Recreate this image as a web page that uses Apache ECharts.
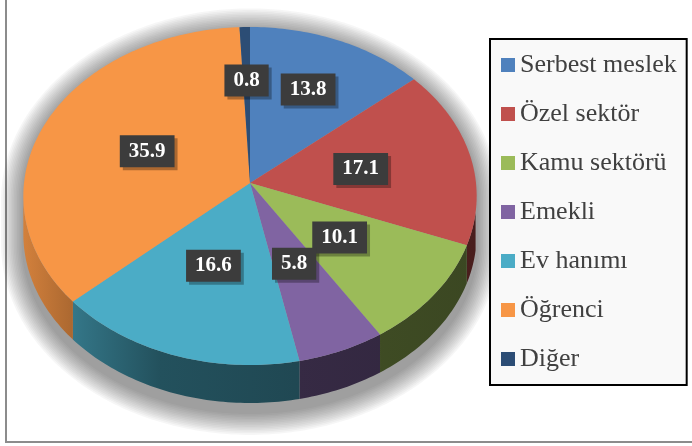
<!DOCTYPE html>
<html>
<head>
<meta charset="utf-8">
<script src="https://cdn.jsdelivr.net/npm/echarts@6/dist/echarts.min.js"></script>
<style>
  html, body { margin: 0; padding: 0; background: #fff; }
  #frame {
    position: absolute; left: 5px; top: 0; width: 685px; height: 441px;
    border-left: 2px solid #8c8c8c; border-bottom: 2px solid #8c8c8c;
  }
  #chart { position: absolute; left: 0; top: 0; width: 692px; height: 446px; }
</style>
</head>
<body>
<div id="frame"></div>
<div id="chart"></div>
<script>
// meslek dağılımı (%)
const categories = ['Serbest meslek', 'Özel sektör', 'Kamu sektörü', 'Emekli', 'Ev hanımı', 'Öğrenci', 'Diğer'];
const values = [13.8, 17.1, 10.1, 5.8, 16.6, 35.9, 0.8];
const colors = ['#4F81BD', '#C0504D', '#9BBB59', '#8064A2', '#4BACC6', '#F79646', '#2C4D75'];

const SERIF = '"Liberation Serif"';

// 3d pie layout (pixels)
const CX = 250, CY = 183, RX = 226, RY = 168, PERSP = 0.077, DEPTH = 38;
const SIL = Math.acos(-PERSP);          // silhouette angle of the side
const SIDE_FROM = 100 * Math.PI / 180;   // right part of the side stays in the dark

const total = values.reduce((a, b) => a + b, 0);
const starts = [];
values.reduce((acc, v, i) => { starts[i] = acc; return acc + v; }, 0);

function proj(t, r, h, grow) {
    const s = 1 / (1 + PERSP * r * Math.cos(t));
    const g = grow || 0;
    return [CX + (RX * s + g) * r * Math.sin(t), CY - (RY * s + g) * r * Math.cos(t) + h * DEPTH];
}

function arc(a, b, h, grow) {
    const n = Math.max(2, Math.ceil(Math.abs(b - a) / (Math.PI / 180)));
    const pts = [];
    for (let k = 0; k <= n; k++) {
        pts.push(proj(a + (b - a) * k / n, 1, h, grow));
    }
    return pts;
}

function shade(hex, f) {
    const n = parseInt(hex.slice(1), 16);
    const c = [(n >> 16) & 255, (n >> 8) & 255, n & 255].map(x => Math.round(x * f));
    return 'rgb(' + c.join(',') + ')';
}

function renderSlice(i, params, api) {
    const v = api.value(0);
    const a0 = 2 * Math.PI * starts[i] / total;
    const a1 = a0 + 2 * Math.PI * v / total;
    const children = [];

    if (i === 0) {
        // soft shadow under the whole pie, built from growing faint outlines
        for (let k = 14; k >= 1; k--) {
            const outline = arc(2 * Math.PI - SIL, 2 * Math.PI + SIL, 0.1, k * 1.6)
                .concat(arc(SIL, 2 * Math.PI - SIL, 1.25, k * 1.6));
            children.push({
                type: 'polygon', z2: 0, silent: true,
                shape: { points: outline },
                style: { fill: 'rgba(0,0,0,0.034)' }
            });
        }
    }

    // side
    const s0 = Math.max(a0, SIDE_FROM), s1 = Math.min(a1, 2 * Math.PI - SIL);
    if (s1 > s0) {
        children.push({
            type: 'polygon', z2: 1,
            shape: { points: arc(s0, s1, 0).concat(arc(s1, s0, 1)) },
            style: {
                fill: new echarts.graphic.LinearGradient(CX - RX, 0, CX + RX, 0, [
                    { offset: 0, color: shade(colors[i], 0.85) },
                    { offset: 0.13, color: shade(colors[i], 0.66) },
                    { offset: 0.3, color: shade(colors[i], 0.47) },
                    { offset: 0.6, color: shade(colors[i], 0.42) },
                    { offset: 1, color: shade(colors[i], 0.38) }
                ], true)
            }
        });
    }

    // top face
    children.push({
        type: 'polygon', z2: 2,
        shape: { points: [proj(0, 0, 0)].concat(arc(a0, a1, 0)) },
        style: { fill: colors[i] }
    });

    // label with a drop shadow box behind it
    const mid = (a0 + a1) / 2;
    const pos = proj(mid, Math.cos(mid) > 0.85 ? 0.64 : 0.5, 0);
    const labelStyle = {
        text: v.toFixed(1),
        font: 'bold 21px ' + SERIF,
        align: 'center', verticalAlign: 'middle',
        padding: [6, 9, 5, 9]
    };
    children.push({
        type: 'text', z2: 3, silent: true,
        x: pos[0] + 3, y: pos[1] + 3,
        style: Object.assign({}, labelStyle, { fill: 'rgba(0,0,0,0)', backgroundColor: 'rgba(0,0,0,0.3)' })
    });
    children.push({
        type: 'text', z2: 4,
        x: pos[0], y: pos[1],
        style: Object.assign({}, labelStyle, { fill: '#fff', backgroundColor: '#3c3c3c' })
    });

    return { type: 'group', children: children };
}

const chart = echarts.init(document.getElementById('chart'), null, { renderer: 'canvas' });

chart.setOption({
    animation: false,
    legend: {
        orient: 'vertical',
        left: 490, top: 39,
        padding: [13, 10, 13, 11],
        itemGap: 23,
        itemWidth: 14, itemHeight: 14,
        icon: 'rect',
        selectedMode: false,
        backgroundColor: '#f9f9f9',
        borderColor: '#000', borderWidth: 2,
        textStyle: { fontFamily: SERIF, fontSize: 26, lineHeight: 26, color: '#404040' },
        data: categories
    },
    series: categories.map((name, i) => ({
        type: 'custom',
        name: name,
        coordinateSystem: 'none',
        itemStyle: { color: colors[i] },
        data: [values[i]],
        renderItem: (params, api) => renderSlice(i, params, api)
    }))
});
</script>
</body>
</html>
